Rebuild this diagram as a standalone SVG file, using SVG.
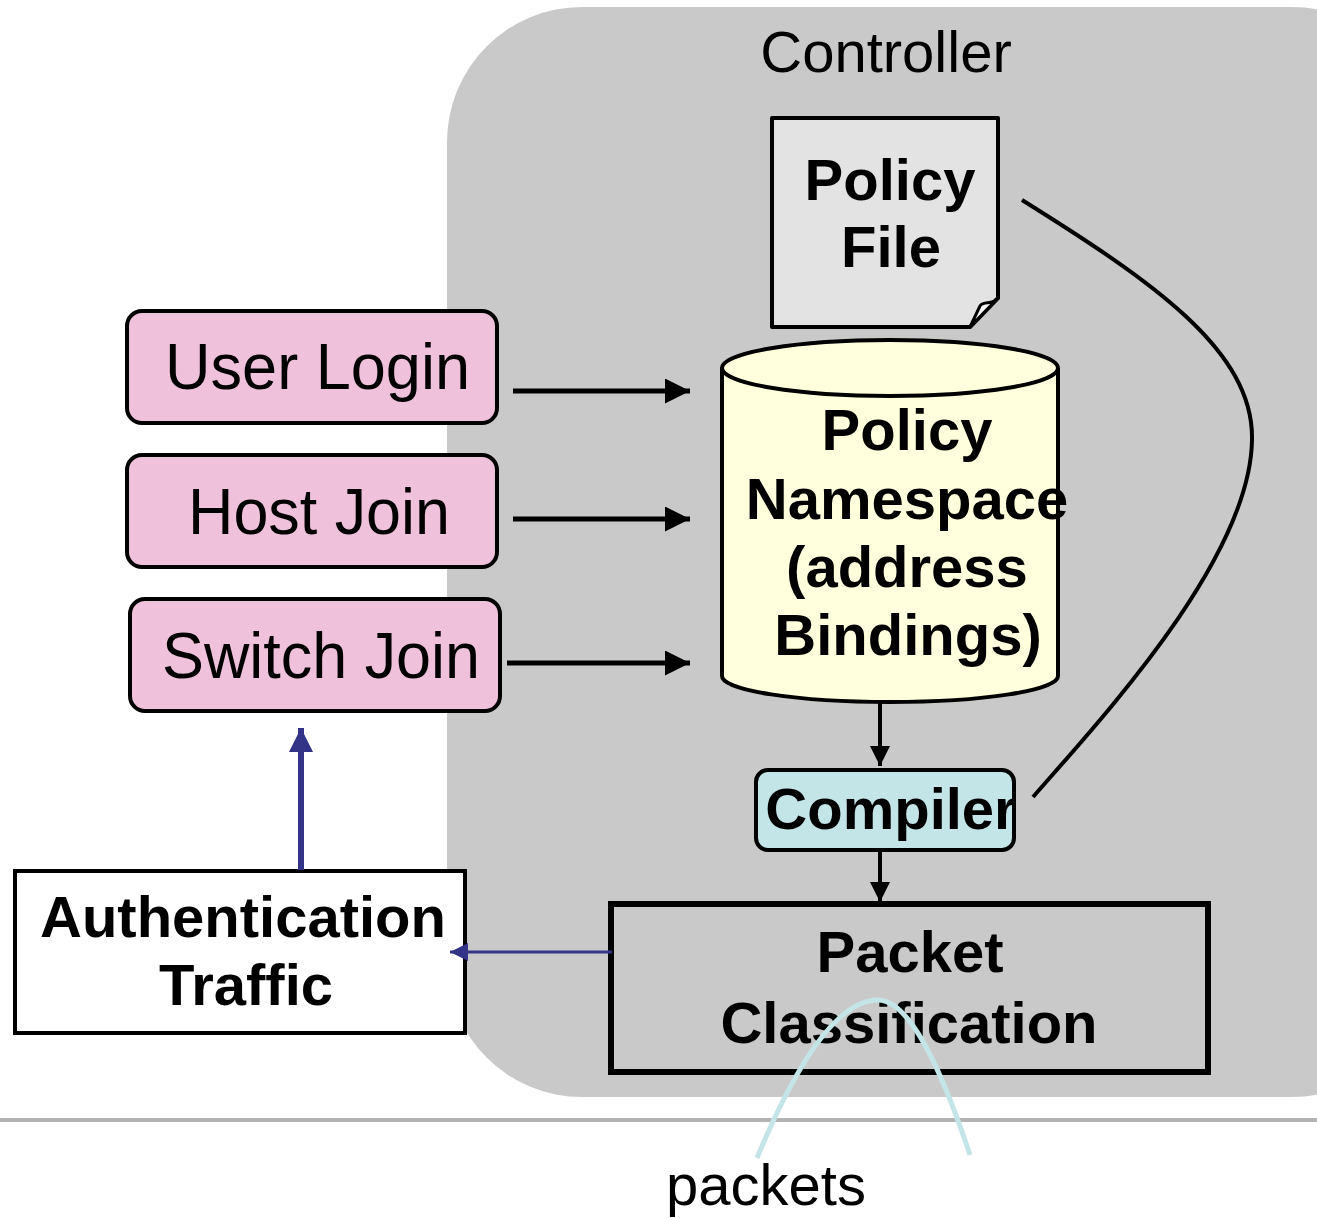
<svg xmlns="http://www.w3.org/2000/svg" width="1317" height="1218" viewBox="0 0 1317 1218">
<defs>
<style>
.b{font-family:"Liberation Sans",Arial,sans-serif;font-weight:bold;font-size:58px;text-anchor:middle;fill:#000}
.r{font-family:"Liberation Sans",Arial,sans-serif;font-size:58px;text-anchor:middle;fill:#000}
.pk{fill:#efc1db;stroke:#000;stroke-width:4}
.pt{font-family:"Liberation Sans",Arial,sans-serif;font-size:64px;fill:#000}
.ar{stroke:#000;stroke-width:5;fill:none}
</style>
<marker id="ah" viewBox="0 0 10 10" refX="10" refY="5" markerWidth="5" markerHeight="5" orient="auto" markerUnits="strokeWidth"><path d="M0,0 L10,5 L0,10 Z" fill="#000"/></marker>
<marker id="ahs" viewBox="0 0 10 10" refX="10" refY="5" markerWidth="5" markerHeight="5" orient="auto" markerUnits="strokeWidth"><path d="M0,0 L10,5 L0,10 Z" fill="#000"/></marker>
<marker id="bh" viewBox="0 0 10 10" refX="10" refY="5" markerWidth="4.5" markerHeight="4" orient="auto" markerUnits="strokeWidth"><path d="M0,0 L10,5 L0,10 Z" fill="#333388"/></marker>
<marker id="bhs" viewBox="0 0 10 10" refX="10" refY="5" markerWidth="6" markerHeight="6" orient="auto" markerUnits="strokeWidth"><path d="M0,0 L10,5 L0,10 Z" fill="#333388"/></marker>
</defs>
<rect width="1317" height="1218" fill="#fff"/>
<g id="controller">
<rect x="447" y="7" width="980" height="1090" rx="135" ry="135" fill="#c9c9c9"/>
<text class="r" x="886" y="72">Controller</text>
</g>
<line x1="0" y1="1120" x2="1317" y2="1120" stroke="#b3b3b3" stroke-width="4"/>
<g id="policy-file">
<path d="M772,118 L998,118 L998,298 L970,327 L772,327 Z" fill="#e3e3e3" stroke="#000" stroke-width="4" stroke-linejoin="round"/>
<path d="M998,298 C992,306 984,300 980,306 L970,327 Z" fill="#f4f4f4" stroke="#000" stroke-width="3" stroke-linejoin="round"/>
<text class="b" x="890" y="200">Policy</text>
<text class="b" x="891" y="267">File</text>
</g>
<g id="policy-namespace">
<path d="M722,368 L722,676 A168,26 0 0 0 1058,676 L1058,368" fill="#ffffdd" stroke="#000" stroke-width="4"/>
<ellipse cx="890" cy="368" rx="168" ry="28" fill="#ffffdd" stroke="#000" stroke-width="4"/>
<text class="b" x="907" y="450">Policy</text>
<text class="b" x="907" y="519">Namespace</text>
<text class="b" x="907" y="587">(address</text>
<text class="b" x="908" y="655">Bindings)</text>
</g>
<g id="user-login">
<rect class="pk" x="127" y="311" width="370" height="112" rx="15"/>
<text class="pt" x="165" y="389" textLength="305" lengthAdjust="spacingAndGlyphs">User Login</text>
</g>
<g id="host-join">
<rect class="pk" x="127" y="455" width="370" height="112" rx="15"/>
<text class="pt" x="188" y="534" textLength="262" lengthAdjust="spacingAndGlyphs">Host Join</text>
</g>
<g id="switch-join">
<rect class="pk" x="130" y="599" width="370" height="112" rx="15"/>
<text class="pt" x="162" y="678" textLength="318" lengthAdjust="spacingAndGlyphs">Switch Join</text>
</g>
<g id="compiler">
<rect x="756" y="770" width="258" height="80" rx="12" fill="#c4e5e8" stroke="#000" stroke-width="4"/>
<text class="b" x="891" y="829">Compiler</text>
</g>
<g id="packet-classification">
<rect x="611" y="904" width="597" height="168" fill="none" stroke="#000" stroke-width="6"/>
<text class="b" x="910" y="972">Packet</text>
<text class="b" x="909" y="1043">Classification</text>
</g>
<g id="authentication-traffic">
<rect x="15" y="871" width="450" height="162" fill="#fff" stroke="#000" stroke-width="4"/>
<text class="b" x="243" y="937">Authentication</text>
<text class="b" x="246" y="1005">Traffic</text>
</g>
<g id="connectors">
<line class="ar" x1="513" y1="391" x2="690" y2="391" marker-end="url(#ah)"/>
<line class="ar" x1="513" y1="519" x2="690" y2="519" marker-end="url(#ah)"/>
<line class="ar" x1="507" y1="663" x2="690" y2="663" marker-end="url(#ah)"/>
<line x1="880" y1="703" x2="880" y2="766" stroke="#000" stroke-width="4" marker-end="url(#ahs)"/>
<line x1="880" y1="852" x2="880" y2="902" stroke="#000" stroke-width="4" marker-end="url(#ahs)"/>
<path d="M1022,200 C1150,280 1254,350 1252,440 C1250,560 1100,720 1033,797" fill="none" stroke="#000" stroke-width="4"/>
<line x1="301" y1="870" x2="301" y2="728" stroke="#333388" stroke-width="6" marker-end="url(#bh)"/>
<line x1="612" y1="952" x2="450" y2="952" stroke="#333388" stroke-width="3" marker-end="url(#bhs)"/>
<path d="M757,1158 C810,1030 850,1000 878,1000 C905,1000 935,1050 970,1155" fill="none" stroke="#c4e5e8" stroke-width="5"/>
</g>
<text class="r" x="766" y="1205">packets</text>
</svg>
